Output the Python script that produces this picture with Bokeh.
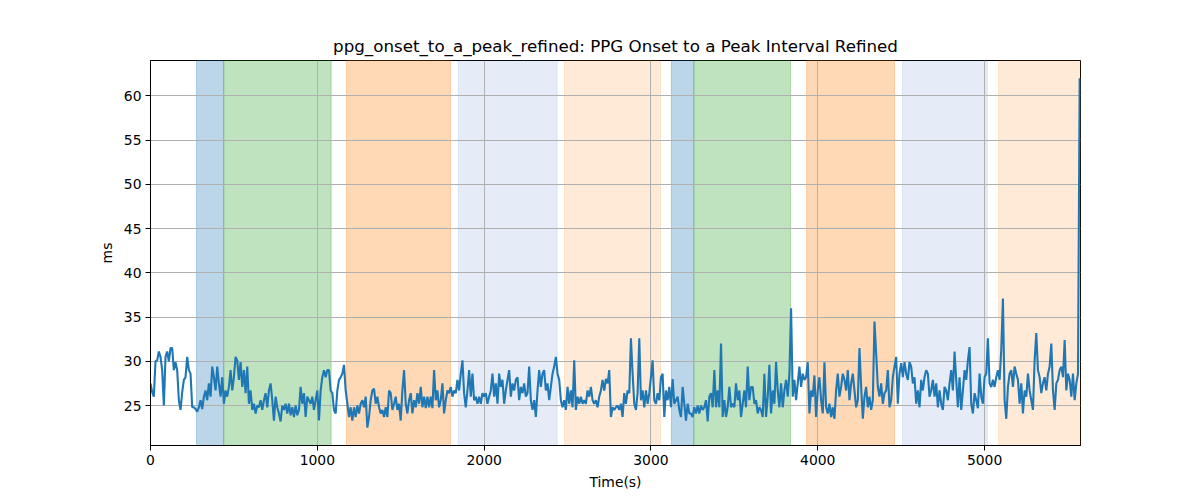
from bokeh.plotting import figure
from bokeh.models import Range1d, SingleIntervalTicker, BoxAnnotation, ColumnDataSource
from bokeh.embed import file_html
from bokeh.resources import INLINE

# ---------------- data ----------------
SAMPLE_STEP_S = 10

ms_0000_0800 = [
    27.5, 26.5, 26.0, 30.0, 30.1, 31.1, 30.5, 29.0, 25.0, 30.5,
    31.1, 30.0, 31.5, 31.5, 29.0, 29.9, 29.0, 25.6, 24.5, 26.5,
    27.9, 28.2, 30.5, 29.0, 28.6, 24.8, 24.8, 24.6, 24.3, 24.8,
    25.6, 24.6, 26.0, 26.7, 25.6, 27.5, 26.0, 29.4, 28.2, 26.7,
    29.4, 27.5, 26.0, 28.2, 25.2, 26.7, 26.0, 27.1, 29.0, 26.7,
    28.2, 30.5, 30.1, 27.9, 29.9, 27.1, 29.0, 26.4, 29.4, 25.2,
    26.7, 24.5, 25.2, 24.1, 25.0, 24.8, 25.6, 24.5, 25.6, 26.4,
    24.8, 26.7, 27.5, 25.6, 23.3, 26.0, 24.8, 24.1, 23.2, 25.0,
    24.5,
]
ms_0810_1610 = [
    25.2, 24.1, 25.2, 23.9, 24.8, 23.7, 25.0, 23.9, 24.5, 27.1,
    25.2, 26.4, 23.7, 26.0, 25.6, 25.2, 26.0, 24.5, 25.6, 26.7,
    23.3, 26.7, 28.2, 29.0, 28.2, 29.0, 29.0, 26.7, 26.4, 24.5,
    24.1, 26.7, 27.9, 28.2, 28.6, 29.6, 26.7, 25.2, 23.7, 24.8,
    23.3, 24.8, 23.7, 25.0, 24.1, 25.2, 25.6, 24.8, 26.0, 22.5,
    23.7, 25.6, 26.7, 26.9, 25.2, 26.0, 24.8, 24.1, 24.5, 23.7,
    24.8, 23.7, 26.7, 26.4, 24.5, 25.2, 26.0, 24.5, 25.2, 23.3,
    26.7, 29.0, 25.2, 24.1, 25.6, 26.4, 24.1, 25.6, 24.8, 26.4,
    25.2,
]
ms_1620_2420 = [
    27.1, 24.8, 26.0, 24.7, 26.0, 24.8, 26.0, 24.7, 29.0, 25.6,
    26.7, 24.8, 25.6, 27.5, 24.1, 25.6, 26.7, 26.4, 27.1, 26.0,
    26.7, 26.4, 27.9, 26.7, 28.6, 30.1, 26.4, 24.8, 26.7, 29.0,
    26.0, 28.6, 25.6, 26.0, 25.2, 26.0, 25.2, 26.4, 26.0, 26.4,
    25.2, 26.0, 26.7, 28.6, 26.0, 27.5, 25.2, 28.6, 27.1, 27.9,
    25.2, 26.7, 27.9, 29.0, 26.0, 27.5, 26.7, 27.9, 28.2, 25.6,
    27.1, 26.4, 27.5, 26.0, 26.4, 29.4, 25.6, 24.5, 25.6, 23.7,
    26.7, 29.0, 27.1, 28.6, 29.0, 26.7, 27.5, 25.6, 27.1, 28.6,
    29.4,
]
ms_2430_3230 = [
    30.5, 28.6, 27.9, 25.6, 24.8, 25.6, 24.5, 27.1, 25.2, 26.7,
    24.8, 30.1, 24.5, 26.0, 25.2, 26.0, 25.2, 25.6, 25.2, 26.7,
    26.0, 27.1, 25.6, 25.2, 25.6, 24.8, 26.0, 26.7, 27.9, 26.7,
    28.0, 27.5, 29.0, 23.7, 24.8, 24.5, 24.8, 25.0, 24.5, 25.2,
    23.7, 26.4, 25.2, 26.7, 26.4, 32.6, 28.6, 25.2, 24.5, 26.4,
    32.6, 25.6, 26.7, 24.8, 26.7, 25.2, 26.4, 28.2, 30.1, 25.6,
    25.2, 26.4, 25.6, 28.2, 28.6, 23.7, 26.7, 25.6, 27.1, 24.8,
    28.0, 25.2, 25.6, 26.0, 24.5, 23.7, 27.1, 25.2, 23.3, 25.2,
    24.1,
]
ms_3240_4040 = [
    24.1, 23.7, 24.8, 24.1, 25.0, 24.1, 25.0, 24.5, 24.8, 25.6,
    23.2, 26.0, 26.4, 24.8, 29.0, 24.8, 26.7, 24.8, 32.0, 23.7,
    25.6, 23.7, 24.8, 27.1, 24.8, 25.2, 24.8, 27.5, 25.6, 26.7,
    23.7, 25.2, 26.7, 24.8, 29.4, 25.6, 27.1, 27.1, 25.2, 25.6,
    24.1, 24.8, 24.5, 23.7, 28.6, 23.7, 26.0, 29.6, 24.1, 26.7,
    25.2, 29.9, 26.7, 24.8, 27.5, 24.8, 26.7, 27.9, 26.0, 28.6,
    36.0, 26.0, 27.9, 25.6, 27.5, 29.4, 27.1, 28.6, 27.9, 28.2,
    29.9, 24.1, 26.7, 26.0, 28.4, 23.7, 26.7, 28.2, 25.6, 24.1,
    29.9,
]
ms_4050_4850 = [
    24.8, 24.1, 25.2, 23.7, 24.8, 23.5, 26.7, 28.6, 26.0, 27.1,
    28.6, 27.9, 26.7, 29.0, 25.6, 27.5, 28.6, 26.7, 24.8, 25.6,
    31.5, 27.1, 23.5, 26.0, 27.1, 24.8, 26.0, 24.5, 25.6, 34.5,
    30.9, 27.1, 26.0, 27.5, 25.2, 26.4, 26.7, 29.0, 24.8, 25.6,
    28.2, 29.4, 30.5, 25.2, 28.6, 29.8, 28.2, 29.9, 28.6, 27.9,
    29.9, 29.4, 27.5, 28.2, 25.2, 26.7, 24.8, 27.9, 26.7, 28.2,
    29.0, 28.6, 26.0, 26.7, 27.9, 26.0, 27.5, 24.8, 26.7, 25.2,
    24.5, 27.1, 26.7, 25.6, 27.5, 29.0, 26.7, 31.1, 27.9, 24.8,
    28.2,
]
ms_4860_5570 = [
    24.5, 26.7, 29.0, 27.9, 30.1, 31.6, 25.2, 24.1, 26.4, 25.6,
    24.7, 28.6, 26.0, 25.2, 28.2, 28.6, 32.6, 27.5, 27.1, 27.9,
    27.1, 28.2, 29.0, 27.9, 31.3, 37.1, 25.6, 23.5, 27.1, 28.6,
    29.0, 27.1, 29.4, 28.6, 27.9, 25.2, 27.5, 24.1, 26.7, 26.0,
    28.6, 26.7, 25.6, 24.5, 30.1, 33.2, 29.0, 28.2, 26.4, 27.5,
    28.2, 26.7, 28.6, 29.4, 32.0, 26.7, 24.5, 27.5, 27.9, 29.0,
    29.4, 28.2, 32.4, 26.7, 28.6, 27.9, 26.0, 28.6, 25.6, 27.5,
    28.6, 62.0,
]

onset_to_peak_ms = (ms_0000_0800 + ms_0810_1610 + ms_1620_2420 + ms_2430_3230
                    + ms_3240_4040 + ms_4050_4850 + ms_4860_5570)
time_s = [i * SAMPLE_STEP_S for i in range(len(onset_to_peak_ms))]

# shaded intervals (s)
span_start = [276, 439, 1175, 1845, 2482, 3123, 3257, 3933, 4508, 5084]
span_end = [439, 1083, 1798, 2438, 3057, 3257, 3837, 4460, 5016, 5575]
span_color = ["#1f77b4", "#2ca02c", "#ff7f0e", "#3a6fc4", "#ff7f0e",
              "#1f77b4", "#2ca02c", "#ff7f0e", "#3a6fc4", "#ff7f0e"]
span_alpha = [0.3, 0.3, 0.3, 0.13, 0.16, 0.3, 0.3, 0.3, 0.13, 0.16]

x_ticks_step = 1000
y_ticks_step = 5

# ---------------- figure ----------------
FONT = "DejaVu Sans"
p = figure(width=1184, height=492,
           x_range=Range1d(0, 5575), y_range=Range1d(20.48, 64.0),
           output_backend="svg", toolbar_location=None,
           title="ppg_onset_to_a_peak_refined: PPG Onset to a Peak Interval Refined",
           min_border_left=150, min_border_right=104,
           min_border_top=60, min_border_bottom=47)
p.background_fill_color = "white"
p.border_fill_color = "white"
p.outline_line_color = "black"
p.outline_line_width = 1

p.title.align = "center"
p.title.text_font = FONT
p.title.text_font_size = "16.7px"
p.title.text_font_style = "normal"
p.title.text_color = "black"

for s, e, c, a in zip(span_start, span_end, span_color, span_alpha):
    p.add_layout(BoxAnnotation(left=s, right=e, fill_color=c, fill_alpha=a,
                               line_color=c, line_alpha=a, line_width=1,
                               level="image"))

src = ColumnDataSource(dict(t=time_s, v=onset_to_peak_ms))
p.line("t", "v", source=src, line_color="#1f77b4", line_width=2.1)

p.xaxis.ticker = SingleIntervalTicker(interval=x_ticks_step)
p.yaxis.ticker = SingleIntervalTicker(interval=y_ticks_step)
p.xaxis.axis_label = "Time(s)"
p.yaxis.axis_label = "ms"
for ax in (p.xaxis, p.yaxis):
    ax.axis_label_text_font = FONT
    ax.axis_label_text_font_size = "13.9px"
    ax.axis_label_text_font_style = "normal"
    ax.axis_label_text_color = "black"
    ax.major_label_text_font = FONT
    ax.major_label_text_font_size = "13.9px"
    ax.major_label_text_color = "black"
    ax.major_tick_out = 5
    ax.major_tick_in = 0
    ax.minor_tick_out = 0
    ax.minor_tick_in = 0
    ax.axis_line_color = "black"
    ax.major_tick_line_color = "black"
    ax.axis_label_standoff = 6
    ax.major_label_standoff = 4

p.xgrid.grid_line_color = "#b0b0b0"
p.ygrid.grid_line_color = "#b0b0b0"
p.xgrid.grid_line_width = 1
p.ygrid.grid_line_width = 1

open("out.html", "w").write(file_html(p, INLINE))
